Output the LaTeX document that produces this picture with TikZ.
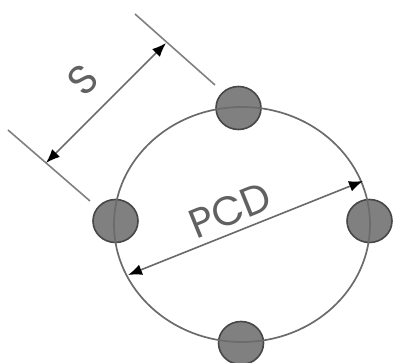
\documentclass[tikz,border=0pt]{standalone}
\usepackage{fontspec}
\setmainfont{Poppins}
\usetikzlibrary{arrows.meta,shapes.geometric}
\begin{document}
\begin{tikzpicture}[x=1pt,y=-1pt,every node/.style = {inner sep=0pt, outer sep=0pt}]
	\tikzset{ hole/.style = {shape=ellipse, draw=black!72, line width=1.6pt, fill=black!50, minimum width=45pt, minimum height=43pt} }
	\tikzset{ pitch/.style = {shape=ellipse, draw=black!58, line width=1.7pt, minimum width=256pt, minimum height=235pt} }
	\tikzset{ extline/.style = {draw=black!50, line width=1.6pt} }
	\tikzset{ dimline/.style = {draw=black!58, line width=1.6pt, {Latex[length=14pt,width=11pt,black]}-{Latex[length=14pt,width=11pt,black]}} }
	\tikzset{ dimlabel/.style = {text=black!62, font=\fontsize{41}{41}\selectfont} }
	\useasboundingbox (0,0) rectangle (393,363);
	\node [hole] (top) at (238.5,108) {};
	\node [hole] (left) at (115.5,221) {};
	\node [hole] (right) at (369.5,221) {};
	\node [hole] (bottom) at (241,343) {};
	\node [pitch] (ring) at (242,224.5) {};
	% extension lines for S
	\coordinate (topa) at (135,14);
	\coordinate (topb) at (215,85);
	\coordinate (lowa) at (8,130);
	\coordinate (lowb) at (90,201);
	\coordinate (sa) at (166,43);
	\coordinate (sb) at (46,163);
	\draw [extline] (topa) -- (topb);
	\draw [extline] (lowa) -- (lowb);
	\draw [dimline] (sb) -- (sa);
	% PCD
	\coordinate (pcda) at (128,275);
	\coordinate (pcdb) at (363,181);
	\draw [dimline] (pcda) -- (pcdb);
	\node [dimlabel, rotate=45] (slabel) at (83,80) {S};
	\node [dimlabel, rotate=22] (pcdlabel) at (230,210) {PCD};
\end{tikzpicture}
\end{document}
